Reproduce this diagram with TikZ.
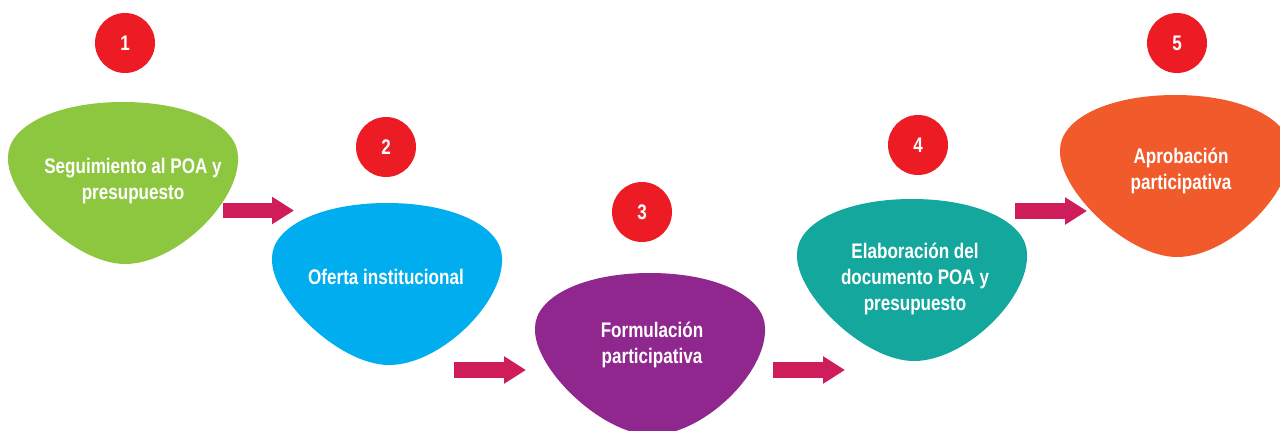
\documentclass[tikz,border=0pt]{standalone}
\usepackage{fontspec}
\setmainfont{Liberation Sans}[FakeStretch=0.81]
\usetikzlibrary{arrows.meta}

\definecolor{stepgreen}{HTML}{8DC63F}
\definecolor{stepblue}{HTML}{00AEEF}
\definecolor{steppurple}{HTML}{90278E}
\definecolor{stepteal}{HTML}{14A79D}
\definecolor{steporange}{HTML}{F15A2B}
\definecolor{numred}{HTML}{ED1C24}
\definecolor{flowred}{HTML}{CF1C5B}

\tikzset{
  petal/.pic={
    \fill[pic actions] (0,55)
      .. controls (0,24) and (48,0) .. (115,0)
      .. controls (182,0) and (230,24) .. (230,55)
      .. controls (232,100) and (168,162) .. (117,162)
      .. controls (67,162) and (-2,95) .. cycle;
  },
  stepnum/.style={circle, fill=numred, minimum size=1.2cm, inner sep=0pt,
    text=white, font=\bfseries\fontsize{12}{14}\selectfont},
  steptext/.style={text=white, align=center,
    font=\bfseries\fontsize{12}{14.8}\selectfont},
  flow/.style={draw=flowred, line width=0.31cm,
    -{Triangle[width=0.52cm,length=0.44cm]}}
}

\begin{document}
\begin{tikzpicture}[x=0.02cm,y=-0.02cm]

\clip (0,0) rectangle (1280,430);

% shapes
\pic[fill=stepgreen] at (8,102) {petal};
\pic[fill=stepblue] at (272,203) {petal};
\pic[fill=steppurple] at (535,273) {petal};
\pic[fill=stepteal] at (797,199) {petal};
\pic[fill=steporange] at (1060,95) {petal};

\node[steptext] (t1) at (133,181) {Seguimiento al POA y\\presupuesto};
\node[steptext] (t2) at (386,277) {Oferta institucional};
\node[steptext] (t3) at (652,345) {Formulación\\participativa};
\node[steptext] (t4) at (915,279) {Elaboración del\\documento POA y\\presupuesto};
\node[steptext] (t5) at (1181,171) {Aprobación\\participativa};

% numbers
\node[stepnum] (n1) at (125,43) {1};
\node[stepnum] (n2) at (386,147) {2};
\node[stepnum] (n3) at (642,212) {3};
\node[stepnum] (n4) at (918,145) {4};
\node[stepnum] (n5) at (1177,43) {5};

% arrows
\coordinate (a1s) at (223,210.5);
\coordinate (a1e) at (294,210.5);
\coordinate (a2s) at (454,370);
\coordinate (a2e) at (526,370);
\coordinate (a3s) at (773,370);
\coordinate (a3e) at (845,370);
\coordinate (a4s) at (1015,211);
\coordinate (a4e) at (1087,211);

\draw[flow] (a1s) -- (a1e);
\draw[flow] (a2s) -- (a2e);
\draw[flow] (a3s) -- (a3e);
\draw[flow] (a4s) -- (a4e);

\end{tikzpicture}
\end{document}
